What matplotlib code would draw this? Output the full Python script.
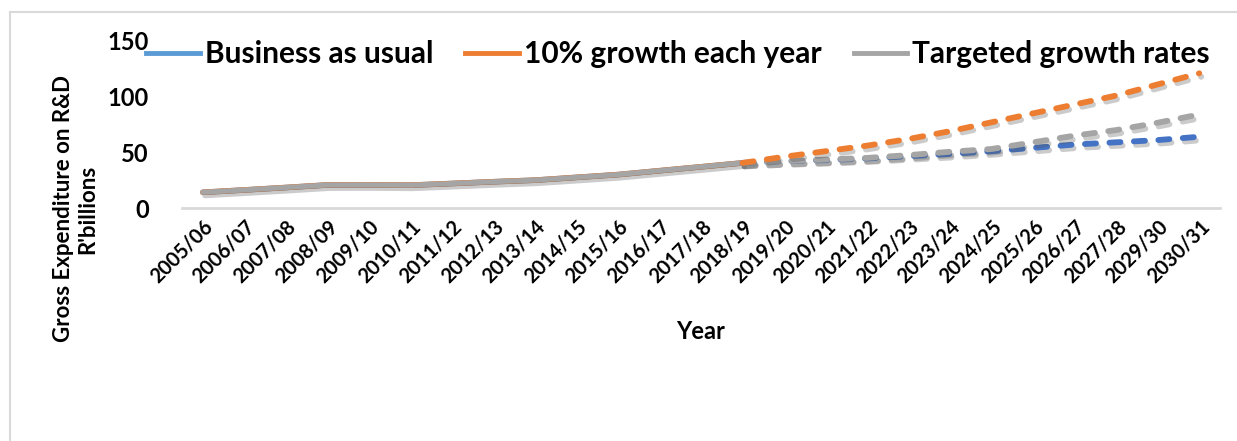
import matplotlib
matplotlib.use('Agg')
import matplotlib.pyplot as plt
import matplotlib.patheffects as pe
from matplotlib.lines import Line2D
import numpy as np

years = ['2005/06', '2006/07', '2007/08', '2008/09', '2009/10', '2010/11', '2011/12',
         '2012/13', '2013/14', '2014/15', '2015/16', '2016/17', '2017/18', '2018/19',
         '2019/20', '2020/21', '2021/22', '2022/23', '2023/24', '2024/25', '2025/26',
         '2026/27', '2027/28', '2029/30', '2030/31']

# actual spending, 2005/06 .. 2018/19
history = [14.1, 16.2, 18.4, 20.7, 20.8, 20.5, 22.0, 23.6, 25.0, 27.5, 30.0, 33.5, 37.0, 40.5]

# projections, 2018/19 .. 2030/31
business = [40.5, 42.0, 43.0, 44.5, 46.5, 48.5, 51.0, 54.0, 57.0, 59.0, 61.0, 64.0]
ten_pct = [40.5, 46.0, 51.0, 56.0, 62.0, 69.0, 77.0, 85.0, 93.0, 101.0, 111.0, 121.0]
targeted = [40.5, 42.0, 43.5, 45.0, 47.5, 50.5, 53.0, 59.0, 65.0, 70.0, 76.6, 84.0]

labels = ['Business as usual', '10% growth each year', 'Targeted growth rates']

plt.rcParams['font.family'] = ['Lato', 'DejaVu Sans']
plt.rcParams['font.weight'] = 'bold'

W, H = 1237, 441
fig = plt.figure(figsize=(W / 100, H / 100), dpi=100)
ax = fig.add_axes([182 / W, 1 - 208 / H, (1220 - 182) / W, (208 - 41) / H])

x = np.arange(len(years))
xh = x[:len(history)]
xp = x[len(history) - 1:]

shadow = [pe.SimpleLineShadow(offset=(1.5, -2.5), shadow_color='#555555', alpha=0.3), pe.Normal()]

# historical part, all three series sit on top of each other
ax.plot(xh, history, color='#5B9BD5', lw=4, solid_capstyle='round')
ax.plot(xh, history, color='#ED7D31', lw=4, solid_capstyle='round')
ax.plot(xh, history, color='#A5A5A5', lw=3.6, solid_capstyle='round', path_effects=shadow)

dash_kw = dict(lw=4.2, dashes=(1.9, 2.3), dash_capstyle='round', path_effects=shadow)
ax.plot(xp, business, color='#4472C4', **dash_kw)
ax.plot(xp, targeted, color='#A5A5A5', **dash_kw)
ax.plot(xp, ten_pct, color='#ED7D31', **dash_kw)

ax.set_xlim(-0.5, len(years) - 0.5)
ax.set_ylim(0, 150)
ax.set_yticks([0, 50, 100, 150])
ax.set_xticks(x)
ax.set_xticklabels(years, rotation=45, ha='right', rotation_mode='anchor', fontsize=14.5)
ax.tick_params(axis='y', length=0, pad=24, labelsize=17)
ax.tick_params(axis='x', length=0, pad=6)

for s in ['top', 'right', 'left']:
    ax.spines[s].set_visible(False)
ax.spines['bottom'].set_color('#D9D9D9')
ax.spines['bottom'].set_linewidth(2)

ax.set_xlabel('Year', fontsize=17, fontweight='bold', labelpad=24)
fig.text(76 / W, 1 - 209 / H, "Gross Expenditure on R&D\nR'billions", rotation=90,
         ha='center', va='center', fontsize=16, fontweight='bold', linespacing=1.2)

handles = [Line2D([], [], color='#5B9BD5', lw=3.5),
           Line2D([], [], color='#ED7D31', lw=3.5),
           Line2D([], [], color='#A5A5A5', lw=3.5)]
fig.legend(handles, labels, loc='center', bbox_to_anchor=(678 / W, 1 - 54 / H), ncol=3,
           frameon=False, fontsize=21.5, handlelength=1.8, handletextpad=0.17,
           columnspacing=1.07)

# chart frame
fig.add_artist(Line2D([10 / W, 1], [1 - 12 / H, 1 - 12 / H], color='#D9D9D9', lw=1.5))
fig.add_artist(Line2D([10 / W, 10 / W], [0, 1 - 12 / H], color='#D9D9D9', lw=1.5))

fig.savefig('out.png', dpi=100)
